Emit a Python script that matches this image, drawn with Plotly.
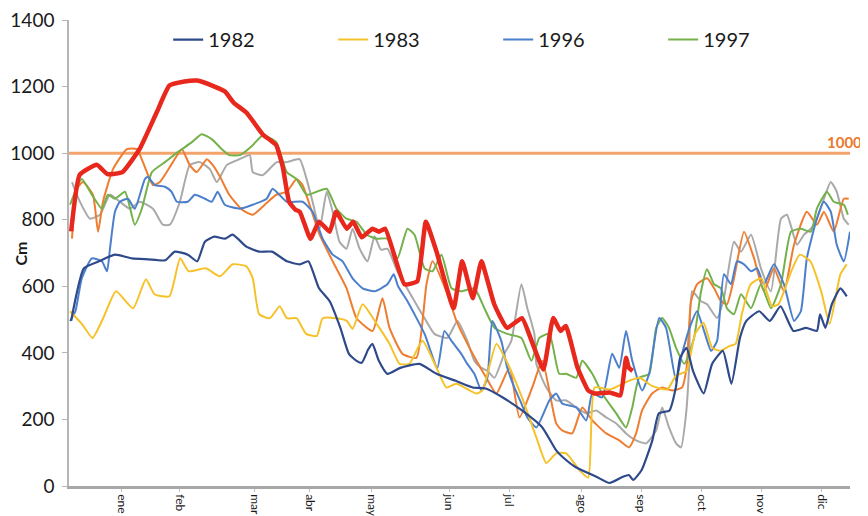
import plotly.graph_objects as go

# ---------------- data (day of year, value in cm) ----------------
month_labels = ["ene", "feb", "mar", "abr", "may", "jun", "jul", "ago", "sep", "oct", "nov", "dic"]
month_ticks = [24.8, 51.9, 86.9, 112.6, 141.6, 178.0, 206.0, 240.0, 267.7, 296.0, 324.0, 352.3]
y_ticks = [0, 200, 400, 600, 800, 1000, 1200, 1400]
threshold = 1000

days_1982 = [1, 7, 14, 21.5, 29.5, 37, 45, 49.5, 55.6, 60, 63.6, 68, 73, 76.6, 83, 89, 95, 102, 108, 112,
             117, 122, 127, 131, 134.6, 137, 140, 142, 145, 149, 155, 164, 172, 181, 189, 195, 203, 212,
             221.5, 228, 231, 237, 247, 253, 259, 262, 264, 268, 273, 276, 281, 284, 286, 289, 292, 297,
             301, 306, 310, 314, 317, 323, 328, 333, 339, 345, 350, 351.5, 354, 357, 361, 364]
vals_1982 = [496, 654, 675, 695, 684, 681, 678, 704, 695, 675, 734, 749, 743, 755, 719, 704, 704, 675, 666, 675,
             594, 555, 475, 397, 376, 370, 410, 427, 376, 337, 355, 367, 337, 316, 296, 293, 266, 227,
             176, 107, 87, 57, 27, 9, 27, 33, 18, 48, 137, 218, 227, 296, 385, 415, 346, 278,
             367, 406, 307, 445, 496, 525, 496, 540, 466, 475, 466, 516, 475, 546, 594, 570]

days_1983 = [0.5, 6, 11, 16, 22, 30, 36, 40, 47, 52, 56, 64, 70.6, 76.6, 83, 86, 89, 94, 98.6, 102, 106.5,
             111, 116, 118.7, 125, 130, 132.7, 137.4, 144, 150, 154.7, 159.3, 165.4, 172, 176.6, 181.3,
             190.7, 193.5, 200, 204.7, 212, 218.7, 223.4, 228, 232.7, 238.8, 243, 246, 253, 262, 267,
             273, 280, 284, 289, 293, 297, 301, 305, 309, 312, 315, 319, 324, 329, 332, 338, 342, 347,
             352, 356, 361, 364]
vals_1983 = [525, 487, 445, 504, 585, 534, 621, 576, 570, 684, 645, 654, 630, 666, 660, 624, 516, 504, 540, 504, 504,
             457, 451, 504, 504, 496, 472, 546, 487, 427, 367, 367, 436, 355, 296, 307,
             278, 287, 427, 376, 266, 146, 69, 98, 98, 48, 25, 296, 290, 316, 325,
             300, 290, 331, 346, 457, 490, 415, 406, 420, 427, 520, 606, 624, 540, 546, 645, 695, 675,
             585, 487, 636, 666]

days_1996 = [0.5, 3, 6, 10.7, 15.4, 17.8, 19.2, 21.5, 23.8, 27.6, 30.8, 35.5, 36.9, 40.2, 44.9, 48, 50.5, 55.6,
             58.9, 63.6, 66.8, 69.6, 72.9, 80, 86, 92.5, 95.3, 101.9, 109.3, 114, 118.7, 123.4, 128, 132.7,
             137.4, 143, 149, 152, 154, 158.4, 166.4, 172.4, 175.7, 179, 183.6, 186.4, 189.7, 193, 195.8,
             198.1, 202.3, 205.1, 208.4, 211.7, 214.5, 218.7, 224.8, 228, 230.8, 237.4, 242.1, 244.9,
             249.5, 254.2, 257.5, 260.7, 263.6, 268.2, 271.5, 276.2, 279.4, 284.1, 286.9, 291.1, 293.9,
             297.2, 300.5, 303.3, 306.5, 309.8, 312.6, 315.9, 319.2, 322, 325.2, 329.9, 334.6, 339.3,
             342.5, 345.3, 350, 353.3, 356.5, 359.3, 362.6, 365.5]
vals_1996 = [496, 525, 624, 684, 675, 645, 714, 824, 854, 863, 833, 922, 928, 904, 899, 884, 854, 854,
             875, 863, 854, 884, 845, 833, 845, 863, 893, 854, 854, 824, 743, 695, 675, 624,
             594, 585, 606, 636, 600, 555, 457, 355, 466, 436, 397, 367, 337, 287, 325,
             496, 436, 355, 296, 248, 206, 176, 257, 278, 248, 236, 197, 278,
             266, 397, 355, 466, 376, 287, 337, 505, 475, 316, 397, 487, 525,
             466, 406, 436, 636, 606, 675, 666, 645, 654, 606, 666, 606, 496,
             525, 684, 803, 854, 824, 725, 675, 764]

days_1997 = [0.5, 6, 10.7, 15.4, 18.2, 21.5, 26.2, 30.8, 34.1, 38.8, 44.9, 50.9, 57.5, 62.1, 66.8, 71.5, 75,
             80, 86, 90.7, 97, 101.9, 106.5, 111.2, 115.9, 120.6, 125.2, 129.9, 134.6, 139.3, 143.9, 149,
             153.7, 158.4, 161.7, 166.4, 170.1, 174.3, 179, 183.6, 189.7, 194.4, 199.1, 205.1, 211.7,
             216.4, 220.1, 224.8, 229.4, 232.7, 237.4, 240.2, 244.9, 249.5, 256.1, 260.7, 263.6, 266.8,
             271.5, 274.8, 277.6, 280.8, 284.1, 288, 292.5, 295.8, 298.6, 301.9, 305.1, 307.9, 311.2,
             314.5, 319.2, 323.8, 328.5, 333.2, 337.9, 342.5, 347.2, 350, 354.7, 357.9, 362.6, 364.5]
vals_1997 = [845, 922, 875, 833, 875, 863, 884, 785, 833, 943, 973, 1003, 1033, 1057, 1042, 1012, 994,
             994, 1024, 1054, 1033, 943, 922, 875, 884, 893, 833, 803, 794, 755, 743, 743,
             684, 773, 755, 654, 645, 695, 594, 585, 594, 534, 475, 457, 445,
             376, 445, 457, 337, 337, 325, 376, 337, 278, 218, 176, 236, 325,
             337, 475, 505, 475, 415, 367, 445, 585, 651, 606, 594, 534, 516,
             576, 534, 606, 534, 606, 764, 773, 764, 833, 884, 854, 845, 815]

days_other_a = [1.4, 3.7, 6.5, 11.2, 13.6, 15.9, 20.6, 27.1, 31.8, 34.6, 39.3, 42.5, 48.6, 52.8, 56.5, 59.8,
                64.5, 67.3, 70.6, 75, 81, 86, 92.5, 97, 101.9, 106.5, 109.3, 112.6, 117.3, 123.4, 129.9,
                134.6, 142.1, 146.7, 150, 156.1, 162.6, 167.3, 170.1, 176.6, 181.3, 184.1, 190.7, 195.3,
                200, 206.1, 210.8, 216.8, 221.5, 228, 230.8, 235.5, 240.2, 244.9, 251.4, 257.5, 262.1,
                265.4, 268.2, 272.9, 277.6, 282.2, 286.9, 289, 291.1, 293.9, 298.6, 301.9, 305.1, 307.9,
                311.2, 315.9, 320.6, 325.2, 329.9, 334.6, 339.3, 345.3, 350, 353.3, 357.9, 362.6, 364.9]
vals_other_a = [743, 893, 913, 875, 764, 854, 952, 1012, 1012, 973, 904, 913, 973, 1012, 964, 943,
                982, 964, 930, 875, 830, 815, 850, 875, 884, 922, 904, 845, 755, 675, 594,
                504, 466, 564, 475, 397, 385, 606, 675, 585, 496, 457, 376, 325,
                278, 355, 206, 296, 376, 188, 167, 158, 236, 197, 158, 137, 116,
                158, 227, 278, 296, 287, 296, 355, 555, 606, 624, 594, 555, 546,
                624, 764, 684, 585, 654, 585, 725, 824, 785, 824, 764, 863, 863]

days_other_b = [1.4, 5.1, 9.8, 14.5, 19.2, 23.8, 28.5, 33.2, 39.3, 43.9, 47.2, 51.9, 56.5, 61.2, 65.9, 69.2,
                73.8, 79.9, 84.6, 86, 90.7, 97.2, 101.9, 107.9, 111.2, 114, 117.3, 120.6, 123.4, 126.6,
                129.9, 132.7, 136, 139.7, 143, 146, 149, 153.7, 161.7, 166.4, 171, 177.1, 181.8, 186.4,
                189.7, 193, 195.8, 199.1, 203.7, 207, 211.7, 214.5, 217.8, 218.7, 223.4, 228, 232.7, 237.4,
                242.1, 246.7, 251.4, 256.1, 260.7, 265.4, 270.1, 274.8, 277.6, 280.8, 284.1, 286.4, 288.8,
                290.2, 291.6, 295.8, 298.6, 303.3, 306.5, 311.2, 314.5, 319.2, 323.8, 328.5, 333.2, 336,
                340.7, 344, 347.2, 350, 353.3, 356.5, 359.3, 362.6, 364.9]
vals_other_b = [913, 854, 803, 815, 875, 854, 833, 854, 833, 785, 785, 854, 964, 973, 952, 913,
                964, 982, 994, 943, 934, 973, 973, 982, 922, 854, 773, 884, 824, 734,
                713, 773, 713, 675, 750, 710, 713, 645, 555, 504, 457, 445, 496, 436,
                376, 355, 346, 325, 397, 436, 606, 534, 457, 367, 296, 257, 257, 236,
                218, 227, 206, 188, 158, 137, 128, 167, 236, 176, 128, 116, 218,
                355, 585, 555, 546, 505, 564, 734, 704, 755, 654, 585, 803, 815,
                725, 755, 773, 803, 863, 913, 884, 803, 785]

days_current = [1, 5, 13, 18, 25, 33, 41, 47, 54, 60, 67, 73, 77, 83, 91, 94, 97, 100, 103, 106, 108, 113,
                117, 122, 125, 130, 133, 137, 142, 145, 148, 157, 163, 167, 172, 180, 184, 189, 193, 199,
                205, 212, 217, 222, 226.6, 230, 232.5, 238, 243, 246, 253, 258, 260.7, 262, 263.8]
vals_current = [765, 935, 965, 937, 943, 1012, 1122, 1203, 1215, 1218, 1203, 1185, 1152, 1122, 1054, 1040,
                1024, 960, 854, 830, 824, 743, 794, 764, 824, 773, 794, 747, 773, 764, 773, 606, 615, 794,
                704, 534, 675, 564, 675, 546, 475, 504, 427, 350, 505, 466, 481, 355, 287, 278, 281, 272,
                385, 355, 346]

# ---------------- figure ----------------
fig = go.Figure()

fig.add_trace(go.Scatter(x=[0, 365.5], y=[threshold, threshold], mode="lines",
                         line=dict(color="#F3A46C", width=3), showlegend=False, hoverinfo="skip"))

series = [
    (days_other_b, vals_other_b, "#A9A9A9", 2, None),
    (days_other_a, vals_other_a, "#EE7D31", 2, None),
    (days_1997, vals_1997, "#74B14A", 2, "1997"),
    (days_1996, vals_1996, "#4C7FCB", 2, "1996"),
    (days_1983, vals_1983, "#F5C22B", 2, "1983"),
    (days_1982, vals_1982, "#2E4A8B", 2.2, "1982"),
]
ranks = {"1982": 1, "1983": 2, "1996": 3, "1997": 4}
for d, v, c, w, name in series:
    fig.add_trace(go.Scatter(
        x=d, y=v, mode="lines", name=name if name else "",
        line=dict(color=c, width=w, shape="spline", smoothing=0.5),
        showlegend=name is not None,
        legendrank=ranks.get(name, 1000)))

fig.add_trace(go.Scatter(x=days_current, y=vals_current, mode="lines", showlegend=False,
                         line=dict(color="#E8271D", width=4.5, shape="spline", smoothing=0.4)))

fig.add_annotation(x=1.0, xref="paper", xanchor="right", xshift=14, y=threshold, yref="y", yshift=11,
                   text="<b>1000</b>", showarrow=False,
                   font=dict(family="Lato", size=15, color="#E87A2E"))

fig.add_annotation(x=-0.0627, xref="paper", y=0.499, yref="paper", xanchor="center", yanchor="middle",
                   text="<b>Cm</b>", textangle=-90, showarrow=False,
                   font=dict(family="Lato", size=16, color="#1a1a1a"))

fig.update_layout(
    width=860, height=508,
    margin=dict(l=61, r=18, t=12, b=30, autoexpand=False),
    paper_bgcolor="white", plot_bgcolor="white",
    font=dict(family="Lato", color="#1a1a1a"),
    legend=dict(orientation="h", x=0.127, y=0.958, xanchor="left", yanchor="middle",
                font=dict(size=20, color="#1a1a1a"), bgcolor="rgba(0,0,0,0)",
                entrywidth=120, entrywidthmode="pixels", traceorder="normal"),
    showlegend=True,
)
fig.update_xaxes(range=[0, 365.5], tickmode="array", tickvals=month_ticks, ticktext=month_labels,
                 tickangle=90, tickfont=dict(size=12, color="#1a1a1a"), automargin=False,
                 showline=True, linecolor="#A8A8A8", linewidth=2.5, showgrid=False, zeroline=False,
                 ticks="outside", ticklen=3, tickcolor="#C0C0C0")
fig.update_yaxes(range=[0, 1400], tickmode="array", tickvals=y_ticks, automargin=False,
                 tickfont=dict(size=19, color="#1a1a1a"), ticklabelstandoff=4,
                 ticklabeloverflow="allow",
                 showline=True, linecolor="#B5B5B5", linewidth=1.5, showgrid=False, zeroline=False,
                 ticks="outside", ticklen=5, tickcolor="#B5B5B5")

fig.write_html("out.html")
